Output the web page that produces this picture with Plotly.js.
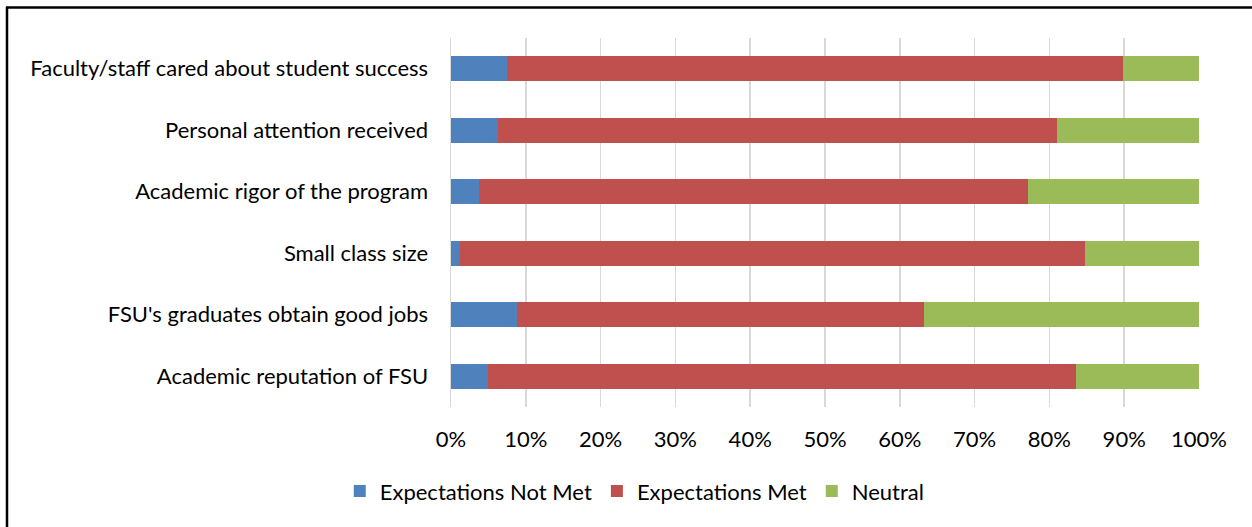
<!DOCTYPE html>
<html>
<head>
<meta charset="utf-8">
<script src="https://cdn.plot.ly/plotly-3.0.1.min.js"></script>
<style>
html,body{margin:0;padding:0;background:#fff;}
#chart{width:1252px;height:527px;}
</style>
</head>
<body>
<div id="chart"></div>
<script>
// Categories listed bottom to top (Plotly draws the first category at the bottom)
const categories = [
  "Academic reputation of FSU",
  "FSU's graduates obtain good jobs",
  "Small class size",
  "Academic rigor of the program",
  "Personal attention received",
  "Faculty/staff cared about student success"
];
const notMet  = [5.0, 8.8, 1.2, 3.7, 6.3, 7.5];
const met     = [78.5, 54.4, 83.6, 73.5, 74.7, 82.4];
const neutral = [16.5, 36.8, 15.2, 22.8, 19.0, 10.1];
const seriesNames = ["Expectations Not Met", "Expectations Met", "Neutral"];
const tickVals = [0,10,20,30,40,50,60,70,80,90,100];
const tickText = ["0%","10%","20%","30%","40%","50%","60%","70%","80%","90%","100%"];

const colors = ["#4F81BD", "#C0504D", "#9BBB59"];
const FONT = "Lato, 'Open Sans', sans-serif";

const W = 1252, H = 527;
const M = {l: 451, r: 53, t: 38, b: 120};
const plotW = W - M.l - M.r, plotH = H - M.t - M.b;
function px2x(px){ return (px - M.l) / plotW; }
function py2y(py){ return 1 - (py - M.t) / plotH; }

const data = [notMet, met, neutral].map((vals, i) => ({
  type: "bar",
  orientation: "h",
  y: categories,
  x: vals,
  name: seriesNames[i],
  marker: {color: colors[i]},
  hoverinfo: "x+y+name"
}));

const layout = {
  width: W, height: H,
  margin: M,
  barmode: "stack",
  bargap: 0.59,
  paper_bgcolor: "#fff",
  plot_bgcolor: "#fff",
  font: {family: FONT, size: 22, color: "#000"},
  showlegend: true,
  legend: {
    orientation: "h",
    xref: "container", yref: "container",
    x: 0.507, xanchor: "center",
    y: 0.068, yanchor: "middle",
    font: {family: FONT, size: 22, color: "#000"},
    traceorder: "normal"
  },
  xaxis: {
    range: [0, 100],
    tickvals: tickVals,
    ticktext: tickText,
    showgrid: true,
    gridcolor: "#d9d9d9",
    gridwidth: 1.5,
    zeroline: false,
    showline: false,
    ticks: "outside",
    ticklen: 13,
    tickcolor: "rgba(0,0,0,0)",
    tickfont: {family: FONT, size: 22, color: "#000"},
    fixedrange: true
  },
  yaxis: {
    categoryorder: "array",
    categoryarray: categories,
    showgrid: false,
    zeroline: false,
    showline: true,
    linecolor: "#d9d9d9",
    linewidth: 1.5,
    ticks: "outside",
    ticklen: 17,
    tickcolor: "rgba(0,0,0,0)",
    tickfont: {family: FONT, size: 22, color: "#000"},
    fixedrange: true
  },
  shapes: [
    {type: "line", xref: "paper", yref: "paper",
     x0: px2x(7), x1: px2x(7), y0: py2y(7), y1: py2y(540),
     line: {color: "#000", width: 2.5}},
    {type: "line", xref: "paper", yref: "paper",
     x0: px2x(6), x1: px2x(1260), y0: py2y(7.5), y1: py2y(7.5),
     line: {color: "#000", width: 2.5}}
  ]
};

Plotly.newPlot("chart", data, layout, {displayModeBar: false, staticPlot: true});
</script>
</body>
</html>
